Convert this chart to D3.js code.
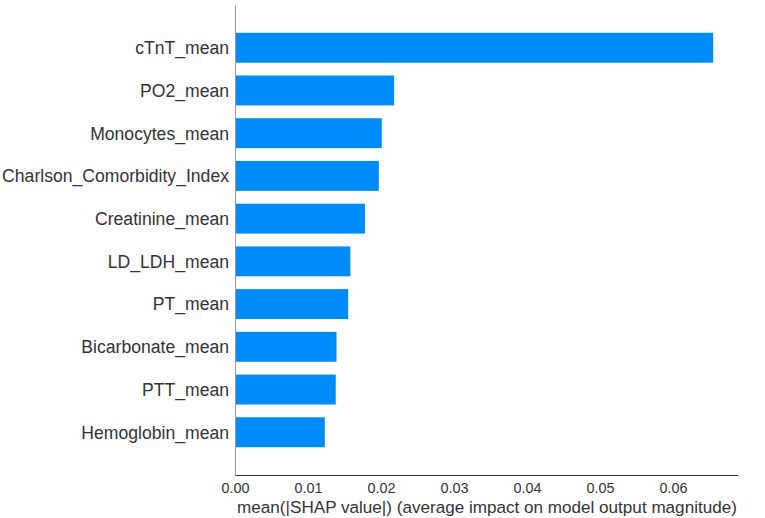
<!DOCTYPE html>
<html><head><meta charset="utf-8">
<script src="https://cdn.jsdelivr.net/npm/d3@7"></script>
<style>body{margin:0;background:#fff}svg{display:block}</style>
</head><body>
<script>
const features = ["cTnT_mean","PO2_mean","Monocytes_mean","Charlson_Comorbidity_Index","Creatinine_mean","LD_LDH_mean","PT_mean","Bicarbonate_mean","PTT_mean","Hemoglobin_mean"];
const values = [0.0655,0.0218,0.0201,0.0197,0.0178,0.0158,0.0155,0.0139,0.0138,0.0123];
const tickValues = [0,0.01,0.02,0.03,0.04,0.05,0.06];
const xTitle = "mean(|SHAP value|) (average impact on model output magnitude)";

const W=765,H=518;
const svg=d3.select("body").append("svg").attr("width",W).attr("height",H);
const x=d3.scaleLinear().domain([0,0.0689]).range([235,738]);
const n=features.length;
const y=d3.scaleLinear().domain([-1,n]).range([475,5]);
const bh=(y(0)-y(1))*0.7;
const font="'Liberation Sans', Arial, sans-serif";

svg.selectAll("rect.bar").data(features).join("rect").attr("class","bar")
  .attr("x",x(0)).attr("y",(d,i)=>y(n-1-i)-bh/2)
  .attr("width",(d,i)=>x(values[i])-x(0)).attr("height",bh)
  .attr("fill","#008bfb");

const yl=svg.append("g");
yl.selectAll("text").data(features).join("text")
  .attr("x",229).attr("y",(d,i)=>y(n-1-i)).attr("dy","0.36em")
  .attr("text-anchor","end").attr("font-family",font).attr("font-size",17.6)
  .attr("fill","#333").text(d=>d);

const xa=svg.append("g").attr("transform","translate(0,475)")
  .call(d3.axisBottom(x).tickValues(tickValues).tickSize(0).tickFormat(d3.format(".2f")));
xa.select(".domain").attr("stroke","#333").attr("stroke-width",1);
xa.selectAll("text").attr("y",17.7).attr("dy",0).attr("font-family",font).attr("font-size",14.4).attr("fill","#333");

svg.append("line").attr("x1",235.5).attr("x2",235.5).attr("y1",5).attr("y2",475)
  .attr("stroke","#999").attr("stroke-width",1);

svg.append("text").attr("x",(237+737)/2).attr("y",513).attr("text-anchor","middle")
  .attr("font-family",font).attr("font-size",17.1).attr("fill","#333").text(xTitle);
</script>
</body></html>
